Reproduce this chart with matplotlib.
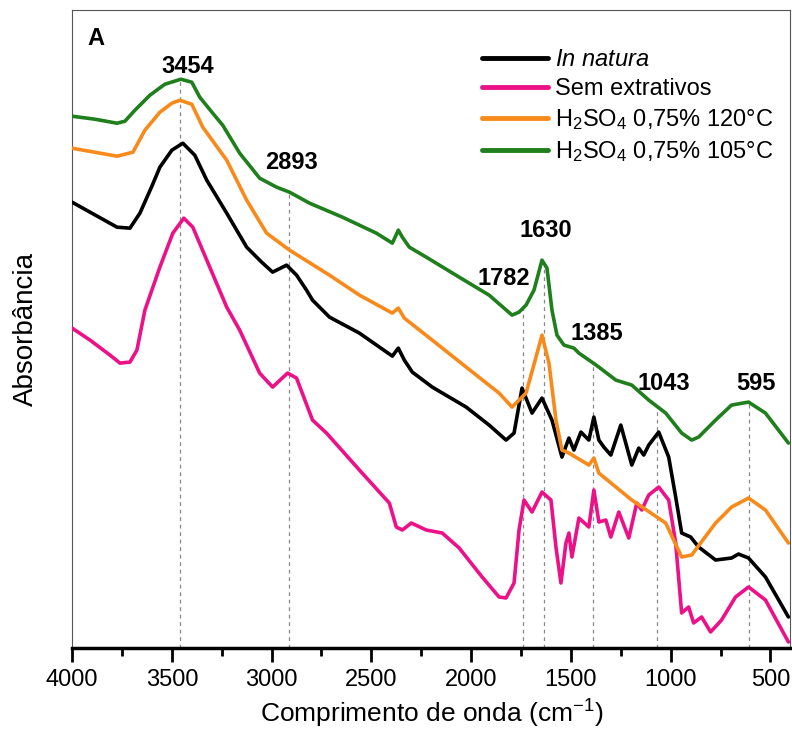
import numpy as np
import matplotlib.pyplot as plt
from matplotlib.ticker import MultipleLocator

plt.rcParams['font.family'] = ['Liberation Sans', 'DejaVu Sans']
plt.rcParams['mathtext.fontset'] = 'custom'
plt.rcParams['mathtext.rm'] = 'Liberation Sans'
plt.rcParams['mathtext.it'] = 'Liberation Sans:italic'
plt.rcParams['mathtext.bf'] = 'Liberation Sans:bold'

# wavenumber (cm-1) / absorbance (arbitrary units)
wn_natura = [4000, 3775, 3710, 3660, 3600, 3560, 3500, 3445, 3385, 3325, 3225, 3125, 3050, 2995, 2925,
             2875, 2825, 2795, 2710, 2560, 2395, 2365, 2335, 2295, 2195, 2025, 1910, 1825, 1785,
             1745, 1695, 1645, 1595, 1545, 1510, 1485, 1450, 1410, 1385, 1360, 1335, 1300, 1250,
             1195, 1160, 1135, 1110, 1060, 1010, 975, 945, 900, 860, 775, 695, 660, 610, 525, 410]
ab_natura = [446, 421, 420, 435, 462, 481, 498, 505, 493, 468, 435, 401, 386, 376, 383,
             373, 358, 348, 331, 315, 292, 300, 288, 276, 261, 241, 223, 208, 215,
             260, 235, 250, 228, 191, 210, 198, 216, 208, 231, 208, 201, 193, 223,
             183, 200, 193, 203, 216, 191, 151, 115, 111, 101, 88, 90, 94, 90, 71, 31]

wn_sem = [4000, 3910, 3810, 3760, 3710, 3675, 3635, 3560, 3495, 3440, 3395, 3310, 3225, 3160,
          3060, 2995, 2920, 2875, 2795, 2725, 2560, 2410, 2375, 2345, 2300, 2225, 2145, 2060,
          1945, 1860, 1825, 1785, 1760, 1735, 1695, 1645, 1600, 1575, 1550, 1525, 1510, 1495,
          1460, 1410, 1385, 1360, 1325, 1300, 1260, 1210, 1170, 1145, 1110, 1060, 1010, 975,
          945, 910, 885, 845, 800, 745, 675, 610, 525, 410]
ab_sem = [320, 308, 293, 285, 286, 298, 338, 381, 415, 430, 421, 381, 341, 318,
          275, 261, 275, 270, 228, 215, 178, 145, 121, 118, 125, 118, 115, 100,
          71, 51, 50, 65, 118, 148, 136, 156, 148, 101, 65, 105, 115, 91,
          130, 121, 158, 126, 128, 111, 136, 110, 145, 138, 153, 161, 148, 105,
          35, 41, 25, 31, 16, 28, 51, 61, 48, 6]

wn_120 = [4000, 3775, 3695, 3635, 3560, 3500, 3460, 3400, 3345, 3225, 3125, 3025, 2910, 2710, 2560,
          2395, 2365, 2335, 2195, 2025, 1860, 1795, 1725, 1675, 1645, 1610, 1575, 1545, 1510,
          1410, 1385, 1360, 1195, 1025, 945, 895, 775, 695, 610, 525, 410]
ab_120 = [500, 492, 496, 518, 536, 545, 548, 544, 521, 488, 448, 415, 398, 373, 353,
          335, 340, 330, 308, 281, 255, 241, 255, 291, 313, 285, 228, 198, 195,
          183, 190, 175, 148, 125, 91, 93, 125, 141, 150, 138, 105]

wn_105 = [4000, 3885, 3775, 3735, 3685, 3610, 3535, 3455, 3400, 3360, 3295, 3245, 3160, 3060,
          2975, 2910, 2810, 2645, 2475, 2395, 2365, 2345, 2310, 2225, 2060, 1910, 1795, 1760,
          1725, 1685, 1645, 1620, 1595, 1570, 1535, 1485, 1460, 1395, 1360, 1275, 1195, 1110,
          1025, 945, 895, 860, 775, 695, 610, 525, 410]
ab_105 = [532, 529, 525, 527, 538, 553, 564, 569, 566, 551, 535, 523, 495, 470,
          461, 456, 445, 431, 415, 405, 418, 411, 401, 391, 371, 353, 333, 336,
          343, 358, 388, 380, 338, 313, 303, 300, 295, 286, 281, 268, 263, 248,
          235, 215, 208, 211, 228, 243, 246, 235, 205]

# marked bands: label text and where the dashed guide sits
band_labels = ['3454', '2893', '1782', '1630', '1385', '1043', '595']
band_pos = [3460, 2915, 1740, 1635, 1390, 1070, 610]
label_x = [3420, 2900, 1835, 1625, 1370, 1035, 575]
label_y = [582, 486, 370, 418, 315, 265, 265]

fig = plt.figure(figsize=(7.92, 7.33), dpi=100)
ax = fig.add_axes([0.091, 0.116, 0.907, 0.870])

# dashed guides from the green curve down to the axis
wn105_sorted = np.array(wn_105)[::-1]
ab105_sorted = np.array(ab_105)[::-1]
for p in band_pos:
    top = np.interp(p, wn105_sorted, ab105_sorted)
    ax.plot([p, p], [0, top], ls=(0, (3, 3)), color='#888888', lw=0.9, zorder=1)

style = dict(lw=2.6, solid_joinstyle='round', solid_capstyle='round', zorder=3)
ax.plot(wn_natura, ab_natura, color='black', label='$\\it{In\\ natura}$', **style)
ax.plot(wn_sem, ab_sem, color='#ec1187', label='Sem extrativos', **style)
ax.plot(wn_120, ab_120, color='#f88a1c', label='H$_2$SO$_4$ 0,75% 120°C', **style)
ax.plot(wn_105, ab_105, color='#1f7f1c', label='H$_2$SO$_4$ 0,75% 105°C', **style)

for t, x, y in zip(band_labels, label_x, label_y):
    ax.text(x, y, t, ha='center', va='center', fontsize=17, fontweight='bold')
ax.text(3880, 610, 'A', ha='center', va='center', fontsize=17, fontweight='bold')

ax.set_xlim(4000, 400)
ax.set_ylim(0, 638)
ax.xaxis.set_major_locator(MultipleLocator(500))
ax.xaxis.set_minor_locator(MultipleLocator(250))
ax.set_yticks([])
ax.tick_params(axis='x', which='major', length=10, width=2, labelsize=17, pad=5)
ax.tick_params(axis='x', which='minor', length=6, width=2)
ax.spines['bottom'].set_linewidth(2.5)
for s in ['top', 'right', 'left']:
    ax.spines[s].set_linewidth(0.8)
    ax.spines[s].set_color('#555555')

ax.set_xlabel('Comprimento de onda (cm$^{-1}$)', fontsize=19, labelpad=5)
ax.set_ylabel('Absorbância', fontsize=20, labelpad=24)

leg = ax.legend(loc='upper right', bbox_to_anchor=(1.0, 0.965), frameon=False, fontsize=17,
                handlelength=2.8, handletextpad=0.3, labelspacing=0.3, borderaxespad=0.3)
for line in leg.get_lines():
    line.set_linewidth(3.5)

plt.savefig('out.png', dpi=100)
